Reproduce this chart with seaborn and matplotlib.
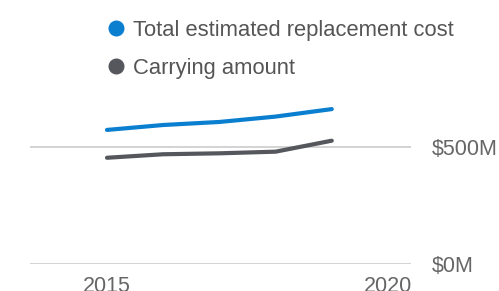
import matplotlib
matplotlib.use("Agg")
import matplotlib.pyplot as plt
from matplotlib.lines import Line2D
import seaborn as sns
import pandas as pd

years = [2015, 2016, 2017, 2018, 2019]
replacement_cost = [573, 594, 607, 630, 662]
carrying_amount = [454, 469, 473, 480, 527]
series_names = ["Total estimated replacement cost", "Carrying amount"]
series_colors = ["#0a7fd0", "#55575c"]
y_ticks = [0, 500]
y_tick_labels = ["$0M", "$500M"]
x_ticks = [2015, 2020]

df = pd.DataFrame({
    "year": years * 2,
    "value": replacement_cost + carrying_amount,
    "series": [series_names[0]] * len(years) + [series_names[1]] * len(years),
})

sns.set_theme(style="white")
plt.rcParams["font.family"] = ["Liberation Sans", "DejaVu Sans"]

fig = plt.figure(figsize=(4.99, 2.91), dpi=100)
ax = fig.add_axes([30 / 499, 27 / 291, 381 / 499, 234 / 291])

sns.lineplot(data=df, x="year", y="value", hue="series", palette=series_colors,
             linewidth=3, legend=False, ax=ax)
for ln in ax.lines:
    ln.set_solid_capstyle("round")

ax.set_xlim(2013.63, 2020.41)
ax.set_ylim(0, 1000)
ax.set_yticks(y_ticks)
ax.set_yticklabels(y_tick_labels)
ax.set_xticks(x_ticks)
ax.yaxis.tick_right()
ax.tick_params(axis="y", length=0, pad=15, labelsize=15.5, labelcolor="#666666")
ax.tick_params(axis="x", length=0, pad=9, labelsize=15.5, labelcolor="#666666")
ax.yaxis.grid(True, color="#cccccc", linewidth=1.2)
ax.set_xlabel("")
ax.set_ylabel("")
for s in ax.spines.values():
    s.set_visible(False)

handles = [Line2D([], [], marker="o", linestyle="none", markersize=10.5,
                  markerfacecolor=c, markeredgecolor=c) for c in series_colors]
fig.legend(handles, series_names, loc="upper left", bbox_to_anchor=(85 / 499, 1.0),
           frameon=False, fontsize=15.8, labelcolor="#555555", handletextpad=0.28,
           labelspacing=0.78, handlelength=1.0, borderaxespad=0.5)

fig.savefig("out.png", dpi=100)
